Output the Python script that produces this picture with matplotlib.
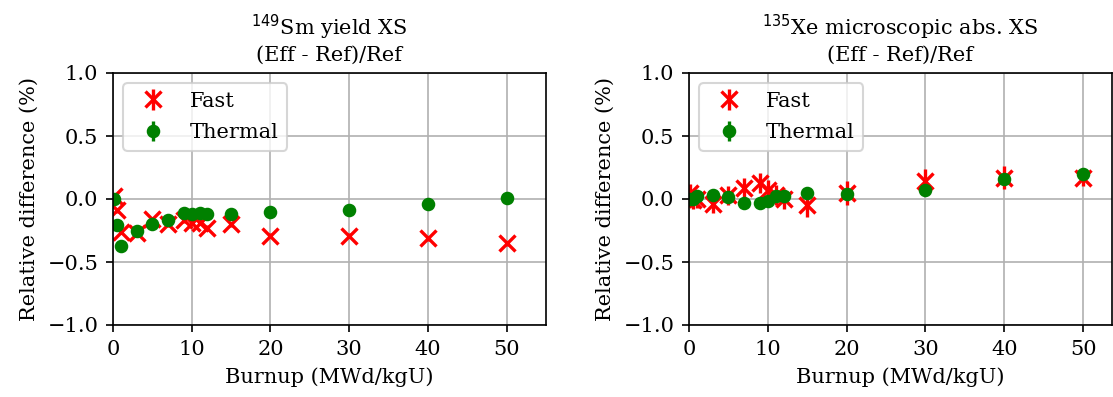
import matplotlib
matplotlib.use("Agg")
import matplotlib.pyplot as plt

plt.rcParams['font.family'] = ['DejaVu Serif']

burnup = [0.1, 0.5, 1, 3, 5, 7, 9, 10, 11, 12, 15, 20, 30, 40, 50]

# Sm-149 yield XS, relative difference (%)
sm_fast = [0.02, -0.09, -0.26, -0.27, -0.16, -0.20, -0.17, -0.19, -0.19, -0.23, -0.20, -0.29, -0.29, -0.31, -0.35]
sm_fast_err = [0.02] * 15
sm_thermal = [0.0, -0.21, -0.37, -0.25, -0.20, -0.17, -0.11, -0.12, -0.11, -0.12, -0.12, -0.10, -0.085, -0.04, 0.01]
sm_thermal_err = [0.01] * 15

# Xe-135 microscopic absorption XS, relative difference (%)
xe_fast = [0.05, -0.01, 0.0, -0.04, 0.03, 0.09, 0.125, 0.07, 0.03, 0.0, -0.05, 0.045, 0.14, 0.17, 0.17]
xe_fast_err = [0.07, 0.07, 0.07, 0.075, 0.075, 0.08, 0.08, 0.08, 0.08, 0.08, 0.09, 0.094, 0.095, 0.09, 0.07]
xe_thermal = [0.0, 0.0, 0.02, 0.03, 0.013, -0.03, -0.03, -0.013, 0.027, 0.027, 0.045, 0.04, 0.07, 0.16, 0.195]
xe_thermal_err = [0.01] * 15

titles = ["$^{149}$Sm yield XS\n(Eff - Ref)/Ref",
          "$^{135}$Xe microscopic abs. XS\n(Eff - Ref)/Ref"]

fig = plt.figure(figsize=(1113 / 150, 397 / 150), dpi=150)
ax1 = fig.add_axes([113 / 1113, 1 - 325 / 397, 433 / 1113, 252 / 397])
ax2 = fig.add_axes([689 / 1113, 1 - 325 / 397, 422.5 / 1113, 252 / 397])

panels = [
    (ax1, sm_fast, sm_fast_err, sm_thermal, sm_thermal_err, 55),
    (ax2, xe_fast, xe_fast_err, xe_thermal, xe_thermal_err, 53.6),
]

for i, (ax, fast, fast_err, thermal, thermal_err, xmax) in enumerate(panels):
    ax.errorbar(burnup, fast, yerr=fast_err, fmt='x', color='red', ms=8,
                mew=1.6, elinewidth=1.6, label='Fast')
    ax.errorbar(burnup, thermal, yerr=thermal_err, fmt='o', color='green', ms=5.5,
                elinewidth=1.6, label='Thermal')
    ax.set_xlim(0, xmax)
    ax.set_ylim(-1.0, 1.0)
    ax.set_xticks([0, 10, 20, 30, 40, 50])
    ax.set_yticks([-1.0, -0.5, 0.0, 0.5, 1.0])
    ax.tick_params(labelsize=10)
    ax.grid(True)
    ax.set_axisbelow(True)
    ax.set_xlabel("Burnup (MWd/kgU)", fontsize=10)
    ax.set_ylabel("Relative difference (%)", fontsize=10)
    ax.set_title(titles[i], fontsize=10)
    ax.legend(loc='upper left', fontsize=10, labelspacing=0.6)

fig.savefig("out.png", dpi=150)
